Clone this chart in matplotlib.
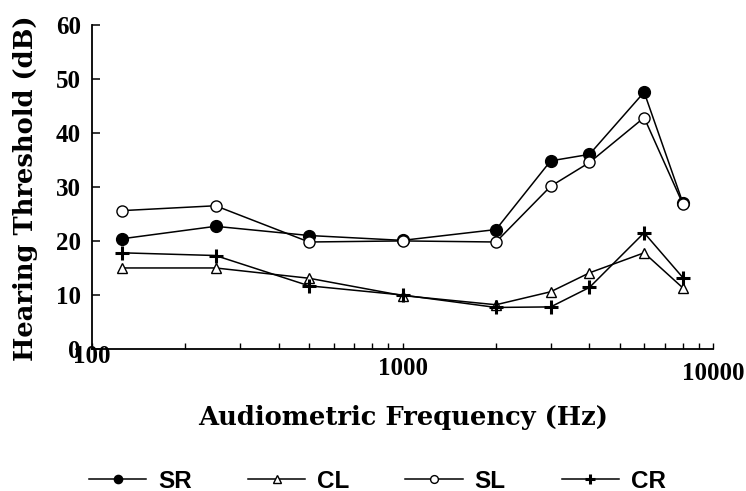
import matplotlib
matplotlib.use("Agg")
import matplotlib.pyplot as plt
import matplotlib.transforms as mtransforms
from matplotlib.ticker import FixedLocator, NullFormatter

# audiometric frequencies (Hz) and mean hearing thresholds (dB)
freqs = [125, 250, 500, 1000, 2000, 3000, 4000, 6000, 8000]
sr = [20.4, 22.7, 21.0, 20.1, 22.1, 34.8, 36.0, 47.5, 27.0]
cl = [15.0, 15.0, 13.1, 9.9, 8.2, 10.6, 14.1, 17.8, 11.3]
sl = [25.6, 26.5, 19.8, 20.0, 19.8, 30.1, 34.5, 42.8, 26.8]
cr = [17.8, 17.3, 11.7, 10.0, 7.7, 7.8, 11.4, 21.5, 13.2]

xtick_vals = [100, 1000, 10000]
xtick_labels = ["100", "1000", "10000"]

serif = "Liberation Serif"
wide_serif = "DejaVu Serif"

fig = plt.figure(figsize=(7.46, 4.91), dpi=100)
ax = fig.add_axes([0.1233, 0.289, 0.8325, 0.661])

ax.plot(freqs, sr, color="black", lw=1.1, marker="o", ms=8.5,
        mfc="black", mec="black", label="SR")
ax.plot(freqs, cl, color="black", lw=1.1, marker="^", ms=7.5,
        mfc="white", mec="black", mew=1.0, label="CL")
ax.plot(freqs, sl, color="black", lw=1.1, marker="o", ms=8.0,
        mfc="white", mec="black", mew=1.0, label="SL")
ax.plot(freqs, cr, color="black", lw=1.1, marker="+", ms=10,
        mew=2.2, label="CR")

ax.set_xscale("log")
ax.set_xlim(100, 10000)
ax.set_ylim(0, 60)
ax.set_yticks(range(0, 61, 10))
ax.xaxis.set_major_locator(FixedLocator(xtick_vals))
minors = [m * d for d in (100, 1000) for m in range(2, 10)]
ax.xaxis.set_minor_locator(FixedLocator(minors))
ax.xaxis.set_minor_formatter(NullFormatter())
ax.set_xticklabels(xtick_labels)

for s in ("top", "right"):
    ax.spines[s].set_visible(False)
for s in ("left", "bottom"):
    ax.spines[s].set_linewidth(1.3)

ax.tick_params(axis="y", which="major", direction="in", length=6,
               width=1.1, labelsize=18, pad=8)
ax.tick_params(axis="x", which="major", direction="in", length=4,
               width=1.0, labelsize=18, pad=6)
ax.tick_params(axis="x", which="minor", direction="in", length=4, width=1.0)
for lab in ax.get_xticklabels() + ax.get_yticklabels():
    lab.set_fontfamily(serif)
    lab.set_fontweight("bold")

# the x tick labels sit at slightly different heights in the original
for lab, dy in zip(ax.get_xticklabels(), [9, 0, -3]):
    off = mtransforms.ScaledTranslation(0, dy / 72, fig.dpi_scale_trans)
    lab.set_transform(lab.get_transform() + off)

fig.text(26 / 746, 1 - 188 / 491, "Hearing Threshold (dB)", rotation=90,
         ha="center", va="center", fontsize=18.5, fontweight="bold",
         fontfamily=wide_serif)
fig.text(403 / 746, 1 - 418 / 491, "Audiometric Frequency (Hz)",
         ha="center", va="center", fontsize=18.5, fontweight="bold",
         fontfamily=wide_serif)

fig.legend(loc="center", bbox_to_anchor=(0.506, 1 - 481 / 491), ncol=4,
           frameon=False, prop={"family": "Liberation Sans", "size": 17.5,
                                "weight": "bold"},
           markerscale=0.7, handlelength=2.35, handletextpad=0.5,
           columnspacing=2.3, borderpad=0.1)

fig.savefig("out.png", dpi=100)
